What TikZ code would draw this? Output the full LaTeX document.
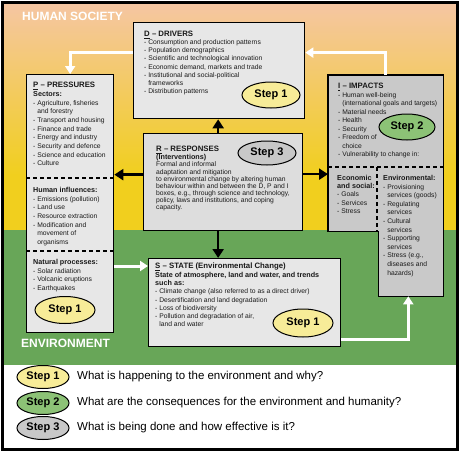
\documentclass[tikz,border=0pt]{standalone}
\usepackage{fontspec}
\setmainfont{Liberation Sans}
\usetikzlibrary{arrows.meta,calc,shapes.geometric}
\definecolor{peach}{RGB}{245,198,162}
\definecolor{sunyellow}{RGB}{241,207,30}
\definecolor{envgreen}{RGB}{104,166,88}
\definecolor{boxgray}{RGB}{231,231,231}
\definecolor{resgray}{RGB}{221,221,221}
\definecolor{impgray}{RGB}{201,201,201}
\definecolor{stepone}{RGB}{247,236,152}
\definecolor{steptwo}{RGB}{140,194,118}
\definecolor{stepthree}{RGB}{200,200,200}
\newcommand\boxhead[1]{{\fontsize{7.8}{9}\selectfont\bfseries #1}}
\newcommand\subhead[1]{{\fontsize{7.2}{8}\selectfont\bfseries #1}}
\newcommand\indnt{\hspace*{0.61em}}
\tikzset{
  panel/.style={draw=black,line width=1.3pt,fill=boxgray,anchor=north west,inner sep=0pt},
  txt/.style={anchor=north west,inner sep=0pt,align=left,text=black!90,font=\fontsize{6.75}{#1}\selectfont},
  txt/.default=8.6,
  stepnode/.style={ellipse,draw=black,line width=1pt,inner sep=0pt,minimum width=58pt,minimum height=26pt,font=\fontsize{11}{12}\selectfont\bfseries},
  blkarrow/.style={line width=2.6pt,-{Triangle[length=9pt,width=11pt]}},
  whtarrow/.style={white,line width=3pt,-{Triangle[length=8pt,width=10pt]}},
  sepline/.style={dash pattern=on 4pt off 3pt,line width=1.2pt},
  zonelabel/.style={anchor=base west,inner sep=0pt,text=white,font=\fontsize{12}{13}\selectfont\bfseries},
}
\begin{document}
\begin{tikzpicture}[x=1pt,y=-1pt]
\useasboundingbox (0,0) rectangle (460,452);
\fill[white] (0,0) rectangle (460,452);
\shade[top color=peach,bottom color=sunyellow] (4,4) rectangle (456,175);
\fill[sunyellow] (4,174) rectangle (456,230);
\fill[envgreen] (4,230) rectangle (456,365);
\draw[line width=3pt] (2.5,2.5) rectangle (457.5,449.5);
\node[zonelabel] (society) at (22,21) {HUMAN SOCIETY};
\node[zonelabel] (environment) at (21,347) {ENVIRONMENT};

% boxes
\node[panel,minimum width=171pt,minimum height=96pt] (D) at (133,22) {};
\node[panel,minimum width=87pt,minimum height=258pt] (P) at (26,74) {};
\node[panel,fill=resgray,minimum width=159pt,minimum height=97pt] (R) at (143,133) {};
\node[panel,minimum width=192pt,minimum height=88pt] (S) at (148,258) {};
\node[panel,draw=none,fill=none,minimum width=114pt,minimum height=220pt] (I) at (328,75) {};
\draw[line width=1.3pt,fill=impgray] (I.north west) -- (I.north east) -- (I.south east)
  -- ($(I.south east)+(-65,0)$) -- ($(I.south east)+(-65,-65)$) -- ($(I.south west)+(0,-65)$) -- cycle;
\draw[sepline] ($(P.north west)+(0,104)$) -- ($(P.north east)+(0,104)$);
\draw[sepline] ($(P.north west)+(0,177)$) -- ($(P.north east)+(0,177)$);
\draw[sepline] ($(I.north west)+(0,92)$) -- ($(I.north east)+(0,92)$);
\draw[sepline] ($(I.north west)+(49,92)$) -- ($(I.south west)+(49,-65)$);

% texts
\node[txt=8.1] (Dtxt) at (144,31) {\boxhead{\underline{D} – DRIVERS}\\- Consumption and production patterns\\- Population demographics\\- Scientific and technological innovation\\- Economic demand, markets and trade\\- Institutional and social-political\\\indnt frameworks\\- Distribution patterns};
\node[txt=8.7] (Ptxt) at (33,82) {\boxhead{\underline{P} – PRESSURES}\\\subhead{Sectors:}\\- Agriculture, fisheries\\\indnt and forestry\\- Transport and housing\\- Finance and trade\\- Energy and industry\\- Security and defence\\- Science and education\\- Culture};
\node[txt=8.7] (Phum) at (33,187) {\subhead{Human influences:}\\- Emissions (pollution)\\- Land use\\- Resource extraction\\- Modification and\\\indnt movement of\\\indnt organisms};
\node[txt=8.7] (Pnat) at (33,259) {\subhead{Natural processes:}\\- Solar radiation\\- Volcanic eruptions\\- Earthquakes};
\node[txt=7.1] (Rtxt) at (156,146) {\boxhead{\underline{R} – RESPONSES}\\\subhead{(Interventions)}\\Formal and informal\\adaptation and mitigation\\to environmental change by altering human\\behaviour within and between the D, P and I\\boxes, e.g., through science and technology,\\policy, laws and institutions, and coping\\capacity.};
\node[txt=8.3] (Stxt) at (155,263) {\boxhead{\underline{S} – STATE (Environmental Change)}\\\subhead{State of atmosphere, land and water, and trends}\\\subhead{such as:}\\- Climate change (also referred to as a direct driver)\\- Desertification and land degradation\\- Loss of biodiversity\\- Pollution and degradation of air,\\\indnt land and water};
\node[txt=8.5] (Itxt) at (338,83) {\boxhead{\underline{I} – IMPACTS}\\- Human well-being\\\indnt (international goals and targets)\\- Material needs\\- Health\\- Security\\- Freedom of\\\indnt choice\\- Vulnerability to change in:};
\node[txt=8.2] (Ieco) at (337,175) {\subhead{Economic}\\\subhead{and social:}\\- Goals\\- Services\\- Stress};
\node[txt=8.6] (Ienv) at (383,175) {\subhead{Environmental:}\\- Provisioning\\\indnt services (goods)\\- Regulating\\\indnt services\\- Cultural\\\indnt services\\- Supporting\\\indnt services\\- Stress (e.g.,\\\indnt diseases and\\\indnt hazards)};

% steps
\node[stepnode,fill=stepone] (Dstep) at (271,95) {Step 1};
\node[stepnode,fill=stepone,minimum width=60pt,minimum height=27pt] (Pstep) at (65,310) {Step 1};
\node[stepnode,fill=stepthree,minimum height=24pt] (Rstep) at (267,153) {Step 3};
\node[stepnode,fill=steptwo,minimum width=56pt] (Istep) at (407,127) {Step 2};
\node[stepnode,fill=stepone,minimum width=60pt,minimum height=28pt] (Sstep) at (303,323) {Step 1};

% arrows
\coordinate (rl) at ([yshift=7.5pt]R.west);
\coordinate (rr) at ([yshift=8pt]R.east);
\coordinate (rt) at ([xshift=-5pt]R.north);
\coordinate (rb) at ([xshift=-5pt]R.south);
\coordinate (sl) at ([yshift=-8pt]S.north west);
\coordinate (sr) at ([yshift=8pt]S.south east);
\draw[blkarrow] (rl) -- (rl -| P.east);
\draw[blkarrow] (rr) -- (rr -| I.west);
\draw[blkarrow] (rt) -- (rt |- D.south);
\draw[blkarrow] (rb) -- (rb |- S.north);
\draw[whtarrow] ([yshift=18pt]D.west) -| (P.north);
\draw[whtarrow] (I.north) |- ([yshift=18pt]D.east);
\draw[whtarrow] (sl -| P.east) -- (sl);
\draw[whtarrow] (sr) -| ([xshift=-35pt]I.south east);

% legend
\node[stepnode,fill=stepone,minimum width=52pt,minimum height=23pt] (L1) at (43,377) {Step 1};
\node[stepnode,fill=steptwo,minimum width=52pt,minimum height=23pt] (L2) at (43,403) {Step 2};
\node[stepnode,fill=stepthree,minimum width=52pt,minimum height=23pt] (L3) at (43,428) {Step 3};
\node[anchor=west,inner sep=0pt,font=\fontsize{11.5}{13}\selectfont] (Q1) at (77,377) {What is happening to the environment and why?};
\node[anchor=west,inner sep=0pt,font=\fontsize{11.5}{13}\selectfont] (Q2) at (77,403) {What are the consequences for the environment and humanity?};
\node[anchor=west,inner sep=0pt,font=\fontsize{11.5}{13}\selectfont] (Q3) at (77,428) {What is being done and how effective is it?};
\end{tikzpicture}
\end{document}
